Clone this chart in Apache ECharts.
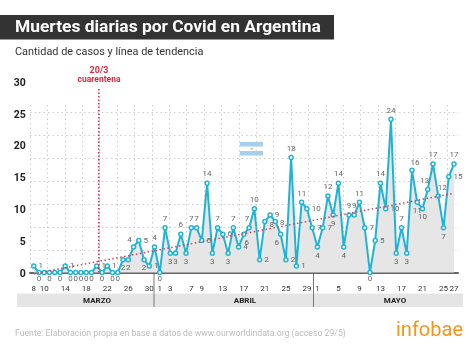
<!DOCTYPE html>
<html>
<head>
<meta charset="utf-8">
<style>
html, body { margin: 0; padding: 0; background: #fff; }
#chart { width: 474px; height: 355px; }
</style>
<script src="https://cdn.jsdelivr.net/npm/echarts@6/dist/echarts.min.js"></script>
</head>
<body>
<div id="chart"></div>
<script>
// dias del 8/3 al 27/5
var fechas = [
	'8', '9', '10', '11', '12', '13', '14', '15', '16', '17', '18', '19',
	'20', '21', '22', '23', '24', '25', '26', '27', '28', '29', '30', '31',
	'1', '2', '3', '4', '5', '6', '7', '8', '9', '10', '11', '12', '13', '14', '15',
	'16', '17', '18', '19', '20', '21', '22', '23', '24', '25', '26', '27', '28', '29', '30',
	'1', '2', '3', '4', '5', '6', '7', '8', '9', '10', '11', '12', '13', '14',
	'15', '16', '17', '18', '19', '20', '21', '22', '23', '24', '25', '26', '27'
];
var muertes = [
	1, 0, 0, 0, 0, 0, 1, 0, 0, 0, 0, 0,
	1, 0, 1, 0, 0, 2, 2, 4, 5, 2, 1, 4,
	0, 7, 3, 3, 6, 3, 7, 7, 5, 14, 3, 7, 6, 3, 7,
	4, 6, 7, 10, 2, 8, 9, 8, 6, 2, 18, 1, 11, 10, 7,
	4, 7, 12, 9, 14, 4, 9, 9, 11, 7, 0, 5, 14, 10,
	24, 3, 7, 3, 16, 11, 10, 13, 17, 12, 7, 15, 17
];
var ticksDias = [0, 2, 6, 10, 14, 18, 22, 24, 26, 30, 32, 36, 40, 44, 48, 52, 54, 58, 62, 66, 70, 74, 78, 80];
var ticksY = [0, 5, 10, 15, 20, 25, 30];
var tendencia = [[0, -0.2], [80, 12.4]];
var cuarentena = [[12.4, 0], [12.4, 29]];
var meses = ['MARZO', 'ABRIL', 'MAYO'];

// donde va cada etiqueta, por defecto arriba
var etiquetaAbajo = [1, 3, 5, 7, 8, 9, 10, 11, 13, 15, 16, 17, 18, 21, 24, 26, 27, 29, 34, 37, 40, 47, 54, 57, 59, 64, 69, 71, 73, 74, 78];
var etiquetaDerecha = [0, 6, 12, 14, 20, 22, 32, 36, 39, 43, 44, 45, 46, 48, 50, 52, 53, 55, 63, 65, 67, 79];
var etiquetaOculta = [2, 4];
var etiquetaAjuste = {
	19: [-4, 2], 40: [3, 0], 41: [-2, 0], 44: [0, 4], 46: [0, 2],
	47: [-4, 0], 72: [3, 1], 75: [-3, 0], 77: [4, 1]
};

var puntos = [];
for (var i = 0; i < muertes.length; i++) {
	var pos = 'top';
	if (etiquetaAbajo.indexOf(i) >= 0) pos = 'bottom';
	if (etiquetaDerecha.indexOf(i) >= 0) pos = 'right';
	puntos.push({
		value: [i, muertes[i]],
		label: {
			show: etiquetaOculta.indexOf(i) < 0,
			position: pos,
			// los ceros quedan pegados al eje
			offset: etiquetaAjuste[i] || (muertes[i] === 0 ? [0, -2] : [0, 0])
		}
	});
}

var fuente = 'Roboto';
var myChart = echarts.init(document.getElementById('chart'));
var option = {
	animation: false,
	textStyle: { fontFamily: fuente },
	grid: [
		{ left: 33.7, right: 20, top: 81, height: 191.5 },
		// grilla punteada, no coincide con las marcas del eje
		{ left: 30, right: 16, top: 105, height: 168 },
		// numeros del eje y, 2px mas abajo que los datos
		{ left: 33.7, right: 20, top: 83, height: 191.5 }
	],
	xAxis: [ {
		type: 'value',
		min: 0,
		max: 80,
		axisLine: { show: false },
		axisTick: { show: false },
		splitLine: { show: false },
		axisLabel: {
			customValues: ticksDias,
			formatter: function(v) { return fechas[v]; },
			fontSize: 8,
			color: '#333',
			margin: 12,
			hideOverlap: false
		}
	}, {
		type: 'value',
		gridIndex: 1,
		min: 0,
		max: 24.6,
		interval: 1,
		axisLine: { show: true, onZero: false, lineStyle: { color: '#666', width: 2 } },
		axisTick: { show: false },
		axisLabel: { show: false },
		splitLine: { show: true, showMaxLine: false, lineStyle: { color: '#ccc', type: [1.5, 3], width: 1 } }
	}, {
		type: 'value',
		gridIndex: 2,
		show: false,
		min: 0,
		max: 80
	} ],
	yAxis: [ {
		type: 'value',
		min: 0,
		max: 30,
		axisLine: { show: false },
		axisTick: { show: false },
		axisLabel: { show: false },
		splitLine: { show: false }
	}, {
		type: 'value',
		gridIndex: 1,
		min: 0,
		max: 7.3,
		interval: 1,
		axisLine: { show: false },
		axisTick: { show: false },
		axisLabel: { show: false },
		splitLine: { show: true, showMaxLine: false, lineStyle: { color: '#ccc', type: [1.5, 3], width: 1 } }
	}, {
		type: 'value',
		gridIndex: 2,
		min: 0,
		max: 30,
		axisLine: { show: false },
		axisTick: { show: false },
		splitLine: { show: false },
		axisLabel: {
			customValues: ticksY,
			fontSize: 10.5,
			fontWeight: 'bold',
			color: '#222',
			margin: 8
		}
	} ],
	series: [ {
		name: 'Muertes',
		type: 'line',
		data: puntos,
		z: 3,
		symbol: 'circle',
		symbolSize: 4,
		lineStyle: { color: '#1fb4d6', width: 2 },
		itemStyle: { color: '#fff', borderColor: '#1fb4d6', borderWidth: 1.5 },
		areaStyle: { color: '#e6e6e6', opacity: 1 },
		label: { show: true, fontSize: 8, color: '#666', distance: 2 }
	}, {
		name: 'Tendencia',
		type: 'line',
		data: tendencia,
		z: 4,
		clip: false,
		symbol: 'none',
		lineStyle: { color: '#d8405a', width: 1.5, type: [1.5, 2.5] }
	}, {
		name: 'Cuarentena',
		type: 'line',
		data: cuarentena,
		z: 4,
		symbol: 'none',
		lineStyle: { color: '#d8283f', width: 1.5, type: [1.5, 2] }
	} ],
	graphic: [
		{ type: 'rect', z: 0, shape: { x: 0, y: 15, width: 334, height: 24.5 }, style: { fill: '#333' } },
		{ type: 'text', z: 1, x: 15, y: 27.5, style: { text: 'Muertes diarias por Covid en Argentina', fill: '#fff', font: 'bold 17.4px Roboto', verticalAlign: 'middle' } },
		{ type: 'text', x: 15, y: 52, style: { text: 'Cantidad de casos y línea de tendencia', fill: '#333', font: '10.9px Roboto', verticalAlign: 'middle' } },
		{ type: 'text', x: 99, y: 71, style: { text: '20/3', fill: '#d8283f', font: 'bold 9px Roboto', align: 'center', verticalAlign: 'middle' } },
		{ type: 'text', x: 99, y: 79.5, style: { text: 'cuarentena', fill: '#d8283f', font: 'bold 8.5px Roboto', align: 'center', verticalAlign: 'middle' } },
		// franja de meses
		{ type: 'rect', shape: { x: 17, y: 293.5, width: 446, height: 13.5 }, style: { fill: '#e5e5e5' } },
		{ type: 'line', shape: { x1: 154, y1: 273, x2: 154, y2: 307 }, style: { stroke: '#777', lineWidth: 1 } },
		{ type: 'line', shape: { x1: 313.5, y1: 273, x2: 313.5, y2: 307 }, style: { stroke: '#777', lineWidth: 1 } },
		{ type: 'text', x: 97, y: 300.5, style: { text: meses[0], fill: '#222', font: 'bold 8px Roboto', align: 'center', verticalAlign: 'middle' } },
		{ type: 'text', x: 245, y: 300.5, style: { text: meses[1], fill: '#222', font: 'bold 8px Roboto', align: 'center', verticalAlign: 'middle' } },
		{ type: 'text', x: 395, y: 300.5, style: { text: meses[2], fill: '#222', font: 'bold 8px Roboto', align: 'center', verticalAlign: 'middle' } },
		// bandera
		{ type: 'rect', shape: { x: 240, y: 142, width: 23, height: 4.5 }, style: { fill: '#a5cfee' } },
		{ type: 'rect', shape: { x: 240, y: 151, width: 23, height: 4.5 }, style: { fill: '#a5cfee' } },
		{ type: 'circle', shape: { cx: 251.7, cy: 148.7, r: 1.3 }, style: { fill: '#d9cf9a' } },
		// pie
		{ type: 'text', x: 15, y: 334, style: { text: 'Fuente: Elaboración propia en base a datos de www.ourworldindata.org (acceso 29/5)', fill: '#bbb', font: '8.7px Roboto', verticalAlign: 'middle' } },
		{ type: 'text', x: 396, y: 331, style: { text: 'infobae', fill: '#f7941d', font: '20px Roboto', verticalAlign: 'middle' } }
	]
};
myChart.setOption(option);
</script>
</body>
</html>
